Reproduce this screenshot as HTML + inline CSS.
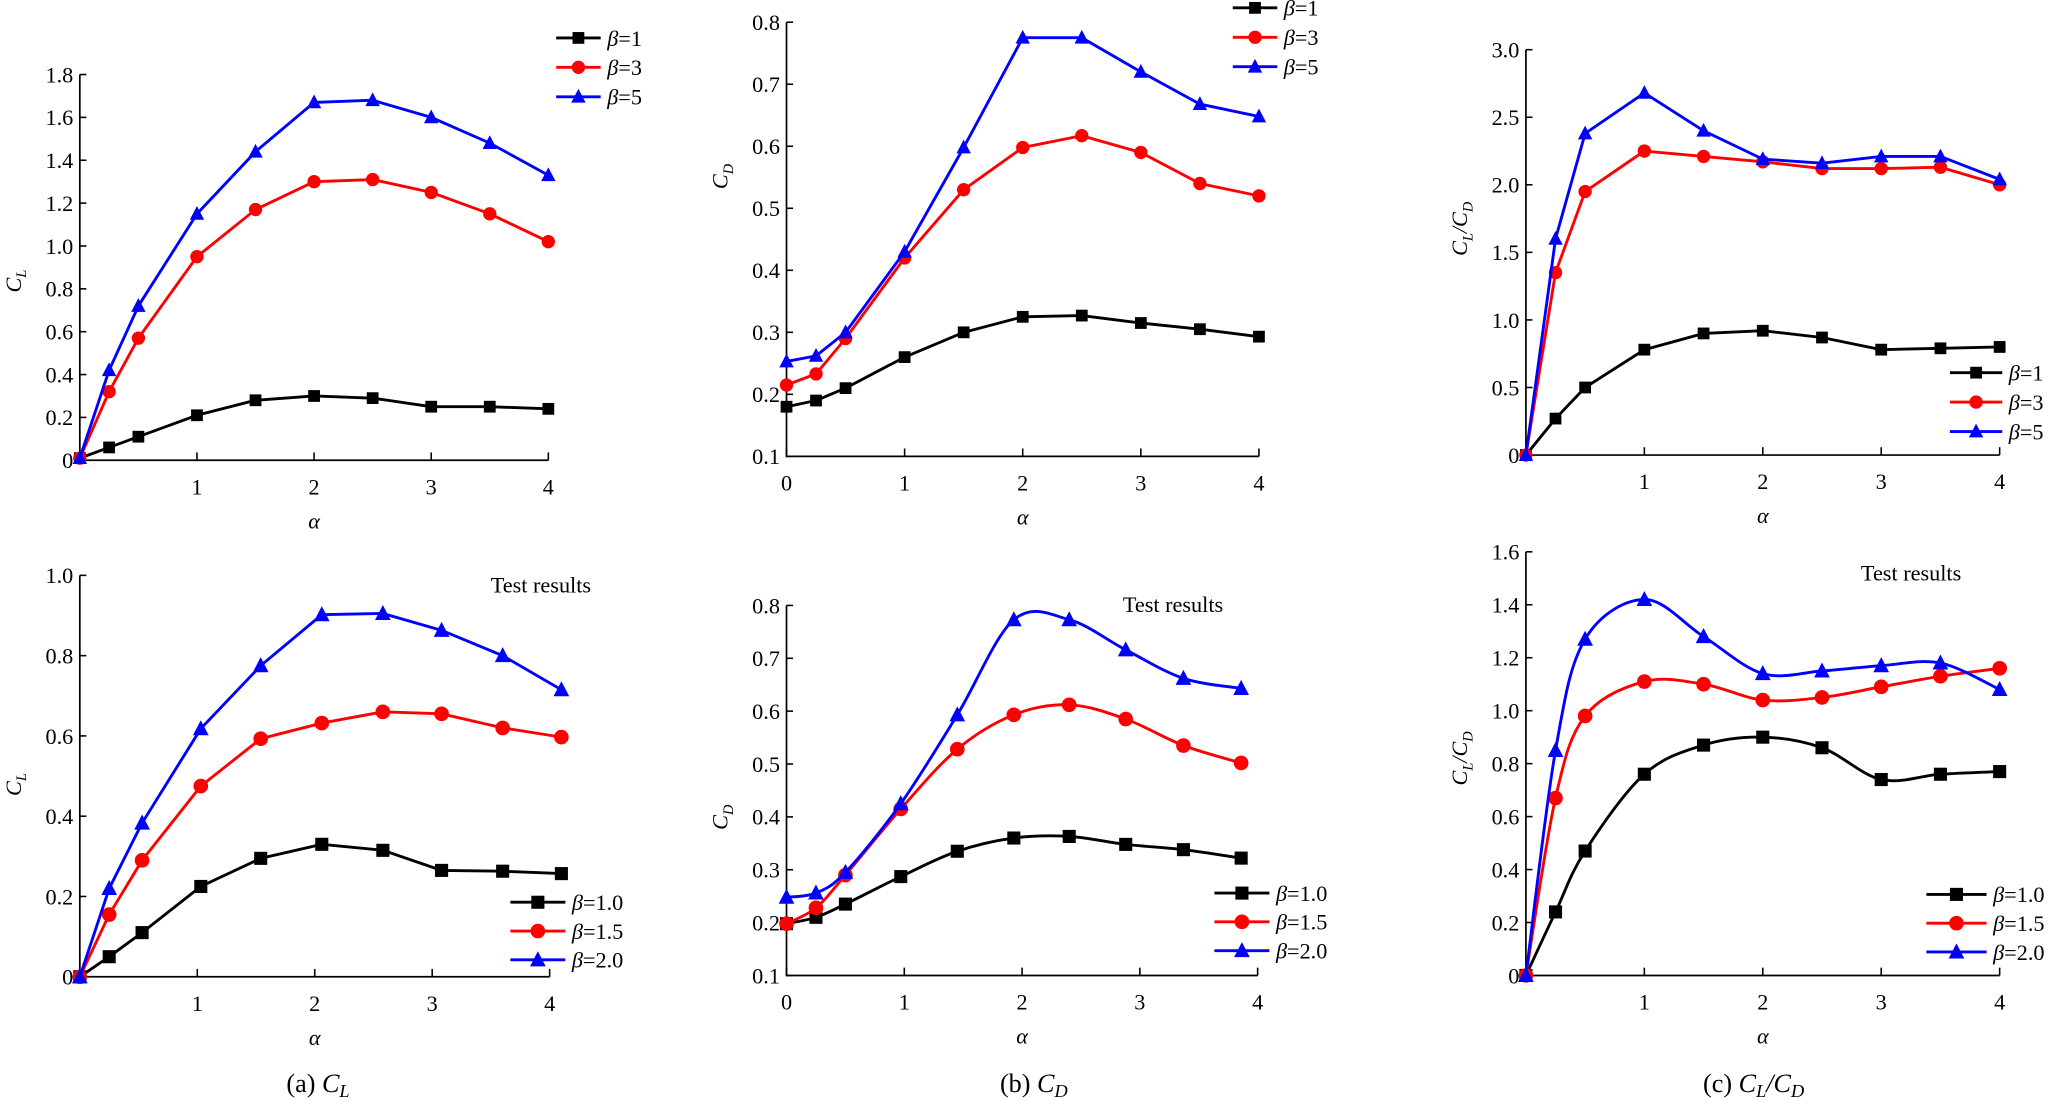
<!DOCTYPE html>
<html><head><meta charset="utf-8"><style>
html,body{margin:0;padding:0;background:#fff;}
svg{display:block;font-family:"Liberation Serif",serif;}
</style></head><body>
<svg id="fig" width="2052" height="1101" viewBox="0 0 1568 842" preserveAspectRatio="none" xmlns="http://www.w3.org/2000/svg"></svg>
<script>
// ---- data ----
const alphaTop = [0,0.25,0.5,1,1.5,2,2.5,3,3.5,4];
const alphaBotA = [0,0.25,0.53,1.03,1.54,2.06,2.58,3.08,3.6,4.1];
const alphaBotB = [0,0.25,0.5,0.97,1.45,1.93,2.4,2.88,3.37,3.86];
const alphaBotC = [0,0.25,0.5,1,1.5,2,2.5,3,3.5,4];
const topLegend = ["β=1","β=3","β=5"];
const botLegend = ["β=1.0","β=1.5","β=2.0"];
const xTicks = [1,2,3,4];
const xTicksB = [0,1,2,3,4];
const yTicksA1 = [0,0.2,0.4,0.6,0.8,1.0,1.2,1.4,1.6,1.8];
const yTicksA2 = [0,0.2,0.4,0.6,0.8,1.0];
const yTicksB = [0.1,0.2,0.3,0.4,0.5,0.6,0.7,0.8];
const yTicksC1 = [0,0.5,1.0,1.5,2.0,2.5,3.0];
const yTicksC2 = [0,0.2,0.4,0.6,0.8,1.0,1.2,1.4,1.6];
const clTopB1 = [0.01,0.06,0.11,0.21,0.28,0.30,0.29,0.25,0.25,0.24];
const clTopB3 = [0.01,0.32,0.57,0.95,1.17,1.30,1.31,1.25,1.15,1.02];
const clTopB5 = [0.01,0.42,0.72,1.15,1.44,1.67,1.68,1.60,1.48,1.33];
const clBotB10 = [0,0.05,0.11,0.225,0.295,0.33,0.315,0.265,0.263,0.257];
const clBotB15 = [0,0.155,0.29,0.475,0.593,0.632,0.66,0.655,0.62,0.597];
const clBotB20 = [0,0.22,0.383,0.618,0.775,0.902,0.905,0.863,0.80,0.715];
const cdTopB1 = [0.18,0.19,0.21,0.26,0.30,0.325,0.327,0.315,0.305,0.293];
const cdTopB3 = [0.215,0.233,0.29,0.42,0.53,0.598,0.617,0.59,0.54,0.52];
const cdTopB5 = [0.253,0.262,0.30,0.43,0.598,0.775,0.775,0.72,0.668,0.648];
const cdBotB10 = [0.198,0.21,0.235,0.287,0.335,0.36,0.363,0.348,0.338,0.322];
const cdBotB15 = [0.198,0.228,0.29,0.415,0.528,0.593,0.612,0.585,0.535,0.502];
const cdBotB20 = [0.248,0.256,0.295,0.425,0.593,0.773,0.773,0.716,0.662,0.643];
const ldTopB1 = [0,0.27,0.5,0.78,0.9,0.92,0.87,0.78,0.79,0.8];
const ldTopB3 = [0,1.35,1.95,2.25,2.21,2.17,2.12,2.12,2.13,2.0];
const ldTopB5 = [0,1.6,2.38,2.68,2.4,2.19,2.16,2.21,2.21,2.04];
const ldBotB10 = [0,0.24,0.47,0.76,0.87,0.9,0.86,0.74,0.76,0.77];
const ldBotB15 = [0,0.67,0.98,1.11,1.10,1.04,1.05,1.09,1.13,1.16];
const ldBotB20 = [0,0.85,1.27,1.42,1.28,1.14,1.15,1.17,1.18,1.08];

const NS="http://www.w3.org/2000/svg";
const svg=document.getElementById('fig');
function mk(tag,attrs,parent){const e=document.createElementNS(NS,tag);for(const k in attrs)e.setAttribute(k,attrs[k]);(parent||svg).appendChild(e);return e;}
function txt(s,x,y,size,parent,anchor,italic){const t=mk('text',{x:x,y:y,'font-size':size,'text-anchor':anchor||'middle',fill:'#000'},parent);if(italic)t.setAttribute('font-style','italic');t.textContent=s;return t;}
const colors=['#000','#f00','#00f'];
const shapes=['square','circle','tri'];
function marker(g,shape,x,y,c,s){
  if(shape==='square')mk('rect',{x:x-s,y:y-s,width:2*s,height:2*s,fill:c},g);
  else if(shape==='circle')mk('circle',{cx:x,cy:y,r:s+0.6,fill:c},g);
  else mk('polygon',{points:`${x},${y-s-1.5} ${x-s-1},${y+s} ${x+s+1},${y+s}`,fill:c},g);
}
function smoothPath(p){let d=`M${p[0][0]},${p[0][1]}`;for(let i=0;i<p.length-1;i++){const p0=p[Math.max(i-1,0)],p1=p[i],p2=p[i+1],p3=p[Math.min(i+2,p.length-1)];
 const c1=[p1[0]+(p2[0]-p0[0])/6,p1[1]+(p2[1]-p0[1])/6],c2=[p2[0]-(p3[0]-p1[0])/6,p2[1]-(p3[1]-p1[1])/6];
 d+=` C${c1[0]},${c1[1]} ${c2[0]},${c2[1]} ${p2[0]},${p2[1]}`;}return d;}

function panel(o){
  const g=mk('g',{});
  
  
  const X=v=>o.x0+(v-o.xmin)*(o.x1-o.x0)/(o.xmax-o.xmin);
  const Y=v=>o.y0-(v-o.ymin)*(o.y0-o.y1)/(o.ymax-o.ymin);
  const ax=mk('path',{d:`M${o.x0},${o.y1} V${o.y0} H${o.x1}`,stroke:'#000','stroke-width':1.3,fill:'none'},g);
  
  
  o.yt.forEach(v=>{mk('line',{x1:o.x0,x2:o.x0+5,y1:Y(v),y2:Y(v),stroke:'#000','stroke-width':1.2},g);
    const t=txt(v===0?'0':v.toFixed(1),o.x0-5,Y(v)+6,17,g,'end');
    
    });
  o.xt.forEach(v=>{mk('line',{x1:X(v),x2:X(v),y1:o.y0,y2:o.y0-6,stroke:'#000','stroke-width':1.2},g);
    const t=txt(String(v),X(v),o.y0+26,17,g);
    
    });
  const xl=txt('α',(o.x0+o.x1)/2,o.y0+52,17,g,'middle',true);
  
  
  const yl=mk('text',{x:0,y:0,'font-size':17,'font-style':'italic','text-anchor':'middle',transform:`translate(${o.x0-45},${o.ylabY}) rotate(-90)`},g);
  
  
  yl.innerHTML=o.ylab;
  o.series.forEach((ys,i)=>{
    const pts=ys.map((v,j)=>[X(o.xs[j]),Y(v)]);
    const sg=mk('g',{},g);
    
    
    const d=o.smooth?smoothPath(pts):'M'+pts.map(p=>p.join(',')).join(' L');
    mk('path',{d:d,stroke:colors[i],'stroke-width':2.2,fill:'none'},sg);
    pts.forEach(p=>marker(sg,shapes[i],p[0],p[1],colors[i],o.ms||4.5));
  });
  o.leg.forEach((s,i)=>{
    const ly=o.legY+i*o.legDy;
    const lg=mk('g',{},g);
    
    
    mk('line',{x1:o.legX,x2:o.legX+o.legW,y1:ly,y2:ly,stroke:colors[i],'stroke-width':2.2},lg);
    marker(lg,shapes[i],o.legX+o.legW/2,ly,colors[i],o.ms||4.5);
    const t=mk('text',{x:o.legX+o.legW+5,y:ly+6,'font-size':17},lg);
    t.innerHTML=`<tspan font-style="italic">β</tspan>=${s.slice(2)}`;
  });
  if(o.test){const t=txt('Test results',o.test[0],o.test[1],17,g,'start');
    
    }
}
const CL='C<tspan font-size="11" dy="4">L</tspan>';
const CD='C<tspan font-size="11" dy="4">D</tspan>';
const CLD='C<tspan font-size="11" dy="4">L</tspan><tspan dy="-4">/C</tspan><tspan font-size="11" dy="4">D</tspan>';
panel({name:'chart-cl-top',x0:61,x1:419,xmin:0,xmax:4,y0:352,y1:57,ymin:0,ymax:1.8,xs:alphaTop,series:[clTopB1,clTopB3,clTopB5],yt:yTicksA1,xt:xTicks,ylab:CL,ylabY:215,leg:topLegend,legX:425,legW:34,legY:29,legDy:22.5});
panel({name:'chart-cl-bottom',x0:61,x1:420,xmin:0,xmax:4,y0:747,y1:440,ymin:0,ymax:1.0,xs:alphaBotA,series:[clBotB10,clBotB15,clBotB20],yt:yTicksA2,xt:xTicks,ylab:CL,ylabY:600,leg:botLegend,legX:390,legW:42,legY:690,legDy:22,test:[375,453],ms:5});
panel({name:'chart-cd-top',x0:601,x1:962,xmin:0,xmax:4,y0:349,y1:17,ymin:0.1,ymax:0.8,xs:alphaTop,series:[cdTopB1,cdTopB3,cdTopB5],yt:yTicksB,xt:xTicksB,ylab:CD,ylabY:135,leg:topLegend,legX:942,legW:34,legY:6,legDy:22.5});
panel({name:'chart-cd-bottom',x0:601,x1:961,xmin:0,xmax:4,y0:746,y1:463,ymin:0.1,ymax:0.8,xs:alphaBotB,series:[cdBotB10,cdBotB15,cdBotB20],yt:yTicksB,xt:xTicksB,ylab:CD,ylabY:625,leg:botLegend,legX:928,legW:42,legY:683,legDy:22,test:[858,468],smooth:true,ms:5});
panel({name:'chart-cld-top',x0:1166,x1:1528,xmin:0,xmax:4,y0:348,y1:38,ymin:0,ymax:3.0,xs:alphaTop,series:[ldTopB1,ldTopB3,ldTopB5],yt:yTicksC1,xt:xTicks,ylab:CLD,ylabY:175,leg:topLegend,legX:1490,legW:40,legY:285,legDy:22.5});
panel({name:'chart-cld-bottom',x0:1166,x1:1528,xmin:0,xmax:4,y0:746,y1:422,ymin:0,ymax:1.6,xs:alphaBotC,series:[ldBotB10,ldBotB15,ldBotB20],yt:yTicksC2,xt:xTicks,ylab:CLD,ylabY:580,leg:botLegend,legX:1472,legW:46,legY:684,legDy:22,test:[1422,444],smooth:true,ms:5});
[['(a) ','C<tspan font-size="14" dy="4">L</tspan>',243],['(b) ','C<tspan font-size="14" dy="4">D</tspan>',790],['(c) ','C<tspan font-size="14" dy="4">L</tspan><tspan dy="-4">/C</tspan><tspan font-size="14" dy="4">D</tspan>',1340]].forEach(c=>{
  const t=mk('text',{x:c[2],y:835,'font-size':20,'text-anchor':'middle'});
  
  
  t.innerHTML=c[0]+'<tspan font-style="italic">'+c[1]+'</tspan>';
});
</script>
</body></html>
